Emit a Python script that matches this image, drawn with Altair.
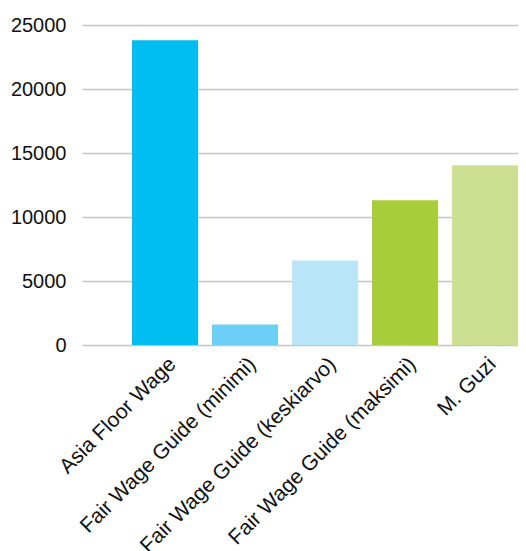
import altair as alt
import pandas as pd

categories = [
    "Asia Floor Wage",
    "Fair Wage Guide (minimi)",
    "Fair Wage Guide (keskiarvo)",
    "Fair Wage Guide (maksimi)",
    "M. Guzi",
]
values = [23800, 1600, 6600, 11300, 14040]
colors = ["#00BDF2", "#6BCFF6", "#B9E5F9", "#A7CE3A", "#CDE091"]
y_ticks = [0, 5000, 10000, 15000, 20000, 25000]

df = pd.DataFrame({"cat": categories, "val": values})

chart = (
    alt.Chart(df)
    .mark_bar()
    .encode(
        x=alt.X(
            "cat:N",
            sort=categories,
            title=None,
            scale=alt.Scale(paddingInner=0.175, paddingOuter=0.3125, align=1.0),
            axis=alt.Axis(
                labelAngle=-45,
                labelFontSize=21,
                labelFont="Liberation Sans",
                labelColor="#111111",
                ticks=False,
                domain=False,
                grid=False,
                labelPadding=8,
                labelLimit=400,
                labelOverlap=False,
            ),
        ),
        y=alt.Y(
            "val:Q",
            title=None,
            scale=alt.Scale(domain=[0, 25000], nice=False),
            axis=alt.Axis(
                values=y_ticks,
                format="d",
                labelFontSize=20,
                labelFont="Liberation Sans",
                labelColor="#111111",
                ticks=False,
                domain=False,
                grid=True,
                gridColor="#c6c6c6",
                gridWidth=1.5,
                labelPadding=16,
            ),
        ),
        color=alt.Color(
            "cat:N",
            sort=categories,
            scale=alt.Scale(domain=categories, range=colors),
            legend=None,
        ),
    )
    .properties(
        width=436,
        height=320,
        autosize=alt.AutoSizeParams(type="none"),
        padding={"left": 74, "top": 17, "right": 0, "bottom": 206},
    )
    .configure_view(stroke=None)
)

chart.save("out.html", embed_options={"renderer": "svg", "actions": False})
